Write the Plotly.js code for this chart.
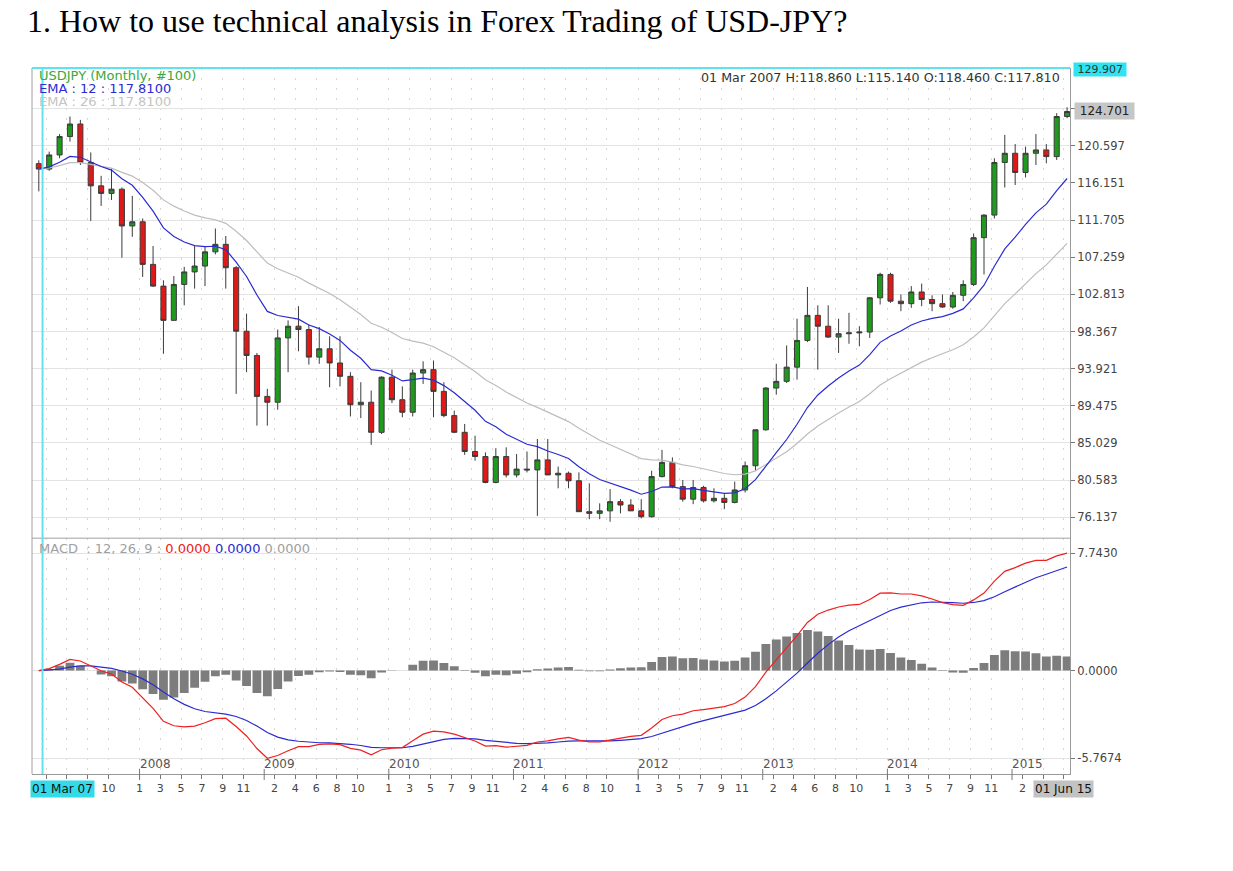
<!DOCTYPE html>
<html>
<head>
<meta charset="utf-8">
<script src="https://cdn.plot.ly/plotly-3.0.1.min.js"></script>
<style>html,body{margin:0;padding:0;background:#fff;}#chart{width:1233px;height:871px;}</style>
</head>
<body>
<div id="chart"></div>
<script>
const months = ["2007-03","2007-04","2007-05","2007-06","2007-07","2007-08","2007-09","2007-10","2007-11","2007-12",
"2008-01","2008-02","2008-03","2008-04","2008-05","2008-06","2008-07","2008-08","2008-09","2008-10","2008-11","2008-12",
"2009-01","2009-02","2009-03","2009-04","2009-05","2009-06","2009-07","2009-08","2009-09","2009-10","2009-11","2009-12",
"2010-01","2010-02","2010-03","2010-04","2010-05","2010-06","2010-07","2010-08","2010-09","2010-10","2010-11","2010-12",
"2011-01","2011-02","2011-03","2011-04","2011-05","2011-06","2011-07","2011-08","2011-09","2011-10","2011-11","2011-12",
"2012-01","2012-02","2012-03","2012-04","2012-05","2012-06","2012-07","2012-08","2012-09","2012-10","2012-11","2012-12",
"2013-01","2013-02","2013-03","2013-04","2013-05","2013-06","2013-07","2013-08","2013-09","2013-10","2013-11","2013-12",
"2014-01","2014-02","2014-03","2014-04","2014-05","2014-06","2014-07","2014-08","2014-09","2014-10","2014-11","2014-12",
"2015-01","2015-02","2015-03","2015-04","2015-05","2015-06"];

const openP = [118.46,117.81,119.5,121.7,123.2,118.6,115.8,114.9,115.4,111.0,
111.5,106.4,103.8,99.7,104.0,105.5,106.2,107.9,108.8,106.0,98.4,95.5,
90.6,89.9,97.6,99.0,98.6,95.3,96.3,94.6,93.0,89.6,89.9,86.3,
92.9,90.2,88.7,93.4,93.8,91.2,88.3,86.3,84.0,83.4,80.3,83.4,
81.2,81.9,81.8,83.0,81.2,81.4,80.5,76.8,76.6,76.9,78.0,77.6,
76.9,76.2,81.0,82.7,79.8,78.3,79.7,78.1,78.4,77.9,79.4,82.3,
86.6,91.6,92.4,94.1,97.3,100.3,99.0,97.7,98.1,98.2,98.3,102.4,
105.2,102.0,101.7,103.1,102.2,101.7,101.3,102.7,104.0,109.6,112.3,118.6,
119.7,117.4,119.7,120.1,119.3,124.1];
const highP = [118.86,119.9,122.0,124.1,123.7,119.8,117.0,117.9,115.6,114.6,
111.9,108.6,104.5,105.0,106.1,108.6,108.6,110.7,109.8,106.2,100.5,95.8,
91.5,98.6,99.7,101.4,99.2,98.9,97.8,97.8,93.5,92.3,91.3,93.0,
93.8,91.8,93.8,94.8,94.9,92.3,88.9,87.3,85.9,83.9,84.4,84.5,
83.7,84.0,85.5,85.5,82.2,81.6,81.5,80.2,77.8,79.5,78.3,78.3,
78.3,81.7,84.2,83.3,80.6,80.6,79.9,79.6,78.9,80.4,82.8,86.6,
91.7,94.5,96.7,99.9,103.7,101.5,101.5,99.9,100.6,99.0,102.5,105.4,
105.4,102.8,103.8,104.1,102.7,102.8,103.1,104.5,110.1,112.4,119.1,121.9,
120.8,120.5,122.0,120.8,124.5,125.2];
const lowP = [115.14,117.6,119.1,121.1,118.3,111.6,113.4,114.1,107.2,109.7,
104.9,103.7,95.7,99.7,101.5,103.5,103.8,107.6,103.5,90.9,93.5,87.1,
87.1,89.0,93.5,96.0,94.4,94.5,91.7,91.8,88.2,88.0,84.8,86.1,
89.8,88.1,88.2,92.1,88.1,88.1,86.2,83.6,82.9,80.2,80.2,80.9,
80.9,81.5,76.3,81.3,79.6,79.6,76.8,75.9,75.9,75.6,76.6,76.9,
76.0,76.1,80.9,79.6,78.0,77.7,77.9,77.9,77.1,77.8,79.1,81.7,
86.5,90.8,92.2,92.6,97.1,93.8,97.6,95.8,96.9,96.6,97.6,101.6,
101.8,100.8,101.2,101.4,100.8,101.2,101.1,102.0,103.8,105.2,111.9,115.6,
115.9,116.8,118.3,118.5,118.9,123.9];
const closeP = [117.81,119.5,121.7,123.2,118.6,115.8,114.9,115.4,111.0,111.5,
106.4,103.8,99.7,104.0,105.5,106.2,107.9,108.8,106.0,98.4,95.5,90.6,
89.9,97.6,99.0,98.6,95.3,96.3,94.6,93.0,89.6,89.9,86.3,92.9,
90.2,88.7,93.4,93.8,91.2,88.3,86.3,84.0,83.4,80.3,83.4,81.2,
81.9,81.8,83.0,81.2,81.4,80.5,76.8,76.6,76.9,78.0,77.6,76.9,
76.2,81.0,82.7,79.8,78.3,79.7,78.1,78.4,77.9,79.4,82.3,86.6,
91.6,92.4,94.1,97.3,100.3,99.0,97.7,98.1,98.2,98.3,102.4,105.2,
102.0,101.7,103.1,102.2,101.7,101.3,102.7,104.0,109.6,112.3,118.6,119.7,
117.4,119.7,120.1,119.3,124.1,124.7];

const ema12 = [117.81,118.07,118.63,119.33,119.22,118.69,118.11,117.69,116.66,115.87,
114.41,112.78,110.77,109.73,109.08,108.64,108.53,108.57,108.17,106.67,
104.95,102.74,100.77,100.28,100.08,99.85,99.15,98.71,98.08,97.30,
96.12,95.16,93.80,93.66,93.13,92.45,92.60,92.78,92.54,91.89,
91.03,89.95,88.94,87.61,86.96,86.07,85.43,84.87,84.58,84.06,
83.65,83.17,82.19,81.33,80.65,80.24,79.83,79.38,78.89,79.21,
79.75,79.76,79.54,79.56,79.34,79.19,78.99,79.05,79.55,80.63,
82.32,83.87,85.44,87.26,89.27,90.77,91.84,92.80,93.63,94.35,
95.59,97.07,97.83,98.43,99.15,99.62,99.94,100.15,100.54,101.07,
102.38,103.91,106.17,108.25,109.66,111.20,112.57,113.61,115.22,116.68];
const ema26 = [117.81,117.94,118.22,118.59,118.59,118.38,118.12,117.92,117.41,116.97,
116.19,115.27,114.12,113.37,112.79,112.30,111.97,111.74,111.31,110.36,
109.26,107.88,106.55,105.88,105.37,104.87,104.16,103.58,102.91,102.18,
101.25,100.41,99.36,98.88,98.24,97.53,97.22,96.97,96.54,95.93,
95.22,94.39,93.58,92.59,91.91,91.12,90.44,89.80,89.29,88.69,
88.15,87.58,86.78,86.03,85.35,84.81,84.27,83.72,83.16,83.00,
82.98,82.74,82.41,82.21,81.91,81.65,81.37,81.22,81.30,81.69,
82.42,83.16,83.97,84.96,86.10,87.06,87.85,88.61,89.32,89.99,
90.91,91.97,92.71,93.38,94.10,94.70,95.22,95.67,96.19,96.77,
97.72,98.80,100.27,101.71,102.87,104.12,105.30,106.34,107.66,108.92];

const macdLine = [0,0.13,0.41,0.74,0.63,0.31,-0.01,-0.23,-0.75,-1.10,
-1.78,-2.49,-3.35,-3.64,-3.71,-3.66,-3.44,-3.17,-3.14,-3.69,
-4.31,-5.14,-5.78,-5.60,-5.29,-5.02,-5.01,-4.87,-4.83,-4.88,
-5.13,-5.25,-5.56,-5.22,-5.11,-5.08,-4.62,-4.19,-4.00,-4.04,
-4.19,-4.44,-4.64,-4.98,-4.95,-5.05,-5.01,-4.93,-4.71,-4.63,
-4.50,-4.41,-4.59,-4.70,-4.70,-4.57,-4.44,-4.34,-4.27,-3.79,
-3.23,-2.98,-2.87,-2.65,-2.57,-2.46,-2.38,-2.17,-1.75,-1.06,
-0.10,0.71,1.47,2.30,3.17,3.71,3.99,4.19,4.31,4.36,
4.68,5.10,5.12,5.05,5.05,4.92,4.72,4.48,4.35,4.30,
4.66,5.11,5.90,6.54,6.79,7.08,7.27,7.27,7.56,7.74];
const signalLine = [0,0.03,0.10,0.23,0.31,0.31,0.25,0.15,-0.03,-0.24,
-0.55,-0.94,-1.42,-1.86,-2.23,-2.52,-2.70,-2.80,-2.87,-3.03,
-3.29,-3.66,-4.08,-4.39,-4.57,-4.66,-4.73,-4.76,-4.77,-4.79,
-4.86,-4.94,-5.06,-5.09,-5.10,-5.09,-5.00,-4.84,-4.67,-4.54,
-4.47,-4.47,-4.50,-4.60,-4.67,-4.74,-4.80,-4.82,-4.80,-4.77,
-4.71,-4.65,-4.64,-4.65,-4.66,-4.64,-4.60,-4.55,-4.49,-4.35,
-4.13,-3.90,-3.69,-3.48,-3.30,-3.13,-2.98,-2.82,-2.61,-2.30,
-1.86,-1.34,-0.78,-0.17,0.50,1.14,1.71,2.21,2.63,2.97,
3.32,3.67,3.96,4.18,4.35,4.47,4.52,4.51,4.48,4.44,
4.49,4.61,4.87,5.20,5.52,5.83,6.12,6.35,6.59,6.83];
const histBars = [0,0.10,0.31,0.51,0.32,0.00,-0.26,-0.38,-0.72,-0.86,
-1.23,-1.55,-1.93,-1.78,-1.48,-1.14,-0.74,-0.37,-0.28,-0.66,
-1.02,-1.48,-1.70,-1.21,-0.72,-0.36,-0.28,-0.11,-0.06,-0.09,
-0.27,-0.31,-0.50,-0.13,-0.01,0.01,0.38,0.65,0.67,0.50,
0.28,0.03,-0.14,-0.38,-0.28,-0.31,-0.21,-0.11,0.09,0.14,
0.21,0.24,0.05,-0.05,-0.04,0.07,0.16,0.21,0.22,0.56,
0.90,0.92,0.82,0.83,0.73,0.67,0.60,0.65,0.86,1.24,
1.76,2.05,2.25,2.47,2.67,2.57,2.28,1.98,1.68,1.39,
1.37,1.43,1.16,0.87,0.70,0.45,0.20,-0.03,-0.13,-0.14,
0.17,0.50,1.03,1.34,1.27,1.25,1.15,0.92,0.97,0.93];

// axis labels ("" where the reference hides the label under a box)
const tickMonths = ["2007-04","2007-06","2007-08","2007-10",
"2008-01","2008-03","2008-05","2008-07","2008-09","2008-11",
"2009-02","2009-04","2009-06","2009-08","2009-10",
"2010-01","2010-03","2010-05","2010-07","2010-09","2010-11",
"2011-02","2011-04","2011-06","2011-08","2011-10",
"2012-01","2012-03","2012-05","2012-07","2012-09","2012-11",
"2013-02","2013-04","2013-06","2013-08","2013-10",
"2014-01","2014-03","2014-05","2014-07","2014-09","2014-11",
"2015-02","2015-04","2015-06"];
const tickText = ["","","","10",
"1","3","5","7","9","11",
"2","4","6","8","10",
"1","3","5","7","9","11",
"2","4","6","8","10",
"1","3","5","7","9","11",
"2","4","6","8","10",
"1","3","5","7","9","11",
"2","",""];
const yearLabels = ["2008","2009","2010","2011","2012","2013","2014","2015"];
const priceTicks = [76.137,80.583,85.029,89.475,93.921,98.367,102.813,107.259,111.705,116.151,120.597,125.043];
const priceTickText = ["76.137","80.583","85.029","89.475","93.921","98.367","102.813","107.259","111.705","116.151","120.597",""];
const macdTicks = [7.743,0,-5.7674];
const macdTickText = ["7.7430","0.0000","-5.7674"];
const lastPrice = 124.701;
const cursorPrice = 129.907;

// positions
const xi = months.map((m,i)=>i);
const idxOf = m => months.indexOf(m);
const TICK_OFF = -0.3;
const tickVals = tickMonths.map(m => idxOf(m) + TICK_OFF);

const PLOT_TOP = 67.5, PLOT_BOT = 774, H = 871;
const PH = PLOT_BOT - PLOT_TOP;
const py = Y => (PLOT_BOT - Y) / PH;   // pixel y -> paper y
const L = 32, R = 1070;
const px = X => (X - L) / (R - L);      // pixel x -> paper x
const split = py(538);

const font = 'DejaVu Sans, Verdana, sans-serif';

const traces = [
  {type:'candlestick', x:xi, open:openP, high:highP, low:lowP, close:closeP,
   xaxis:'x', yaxis:'y', hoverinfo:'skip', whiskerwidth:0,
   increasing:{line:{color:'#3b3b3b', width:1}, fillcolor:'#1f9a1f'},
   decreasing:{line:{color:'#3b3b3b', width:1}, fillcolor:'#e01818'}},
  {type:'scatter', mode:'lines', x:xi, y:ema26, xaxis:'x', yaxis:'y',
   line:{color:'#bdbdbd', width:1.2}, hoverinfo:'skip'},
  {type:'scatter', mode:'lines', x:xi, y:ema12, xaxis:'x', yaxis:'y',
   line:{color:'#2b2bd0', width:1.2}, hoverinfo:'skip'},
  {type:'bar', x:xi, y:histBars, xaxis:'x', yaxis:'y2',
   marker:{color:'#7d7d7d', line:{width:0}}, hoverinfo:'skip'},
  {type:'scatter', mode:'lines', x:xi, y:signalLine, xaxis:'x', yaxis:'y2',
   line:{color:'#2b2bd0', width:1.2}, hoverinfo:'skip'},
  {type:'scatter', mode:'lines', x:xi, y:macdLine, xaxis:'x', yaxis:'y2',
   line:{color:'#ee2020', width:1.2}, hoverinfo:'skip'}
];

const shapes = [
  {type:'line', xref:'paper', yref:'paper', x0:0, x1:0, y0:0, y1:1, line:{color:'#a0a0a0', width:1}},
  {type:'line', xref:'paper', yref:'paper', x0:0, x1:1, y0:split, y1:split, line:{color:'#a0a0a0', width:1}},
  {type:'line', xref:'x', yref:'paper', x0:0.36, x1:0.36, y0:0, y1:1, line:{color:'#5fe3ef', width:2}},
  {type:'line', xref:'paper', yref:'paper', x0:0, x1:1, y0:1, y1:1, line:{color:'#5fe3ef', width:2}}
];
yearLabels.forEach(y => {
  const xv = idxOf(y + "-01") + TICK_OFF;
  shapes.push({type:'line', xref:'x', yref:'paper', x0:xv, x1:xv, y0:py(769), y1:py(780), line:{color:'#777', width:1}});
});

const annotations = [
  {xref:'paper', yref:'paper', x:px(37), y:py(75), xanchor:'left', yanchor:'middle', showarrow:false,
   text:'USDJPY (Monthly, #100)', font:{family:font, size:13, color:'#3aa83a'}},
  {xref:'paper', yref:'paper', x:px(37), y:py(88), xanchor:'left', yanchor:'middle', showarrow:false,
   text:'EMA : 12 : 117.8100', font:{family:font, size:13, color:'#2b2bd0'}},
  {xref:'paper', yref:'paper', x:px(37), y:py(101), xanchor:'left', yanchor:'middle', showarrow:false,
   text:'EMA : 26 : 117.8100', font:{family:font, size:13, color:'#c4c4c4'}},
  {xref:'paper', yref:'paper', x:px(1062), y:py(77), xanchor:'right', yanchor:'middle', showarrow:false,
   text:'01 Mar 2007 H:118.860 L:115.140 O:118.460 C:117.810', font:{family:font, size:12.7, color:'#333'}},
  {xref:'paper', yref:'paper', x:px(37), y:py(548), xanchor:'left', yanchor:'middle', showarrow:false,
   text:'<span style="color:#a0a0a0">MACD  : 12, 26, 9 : </span><span style="color:#ee2020">0.0000</span> <span style="color:#2b2bd0">0.0000</span> <span style="color:#a0a0a0">0.0000</span>',
   font:{family:font, size:13, color:'#a0a0a0'}},
  {xref:'paper', yref:'y', x:1, y:lastPrice, xanchor:'left', yanchor:'middle', xshift:4, showarrow:false,
   text:'&nbsp;124.701&nbsp;', bgcolor:'#c6c6c6', borderpad:1, font:{family:font, size:12, color:'#222'}},
  {xref:'paper', yref:'paper', x:1, y:py(69), xanchor:'left', yanchor:'middle', xshift:3, showarrow:false,
   text:'&nbsp;129.907&nbsp;', bgcolor:'#2fe3f3', borderpad:0, font:{family:font, size:11, color:'#333'}},
  {xref:'paper', yref:'paper', x:px(62), y:py(789), xanchor:'center', yanchor:'middle', showarrow:false,
   text:'01 Mar 07', bgcolor:'#33dbe9', borderpad:1, font:{family:font, size:12, color:'#111'}},
  {xref:'paper', yref:'paper', x:px(1063), y:py(789), xanchor:'center', yanchor:'middle', showarrow:false,
   text:'01 Jun 15', bgcolor:'#c2c2c2', borderpad:1, font:{family:font, size:12, color:'#111'}}
];
yearLabels.forEach(y => {
  annotations.push({xref:'x', yref:'paper', x:idxOf(y + "-01") + TICK_OFF, y:py(764), xanchor:'left', yanchor:'middle',
    xshift:-2, showarrow:false, text:y, font:{family:font, size:12, color:'#555'}});
});

const layout = {
  width:1233, height:871,
  margin:{l:L, r:1233-R, t:PLOT_TOP, b:H-PLOT_BOT, pad:0},
  paper_bgcolor:'#ffffff', plot_bgcolor:'#ffffff',
  showlegend:false, hovermode:false, bargap:0.15, boxgap:0.3,
  title:{text:'1. How to use technical analysis in Forex Trading of USD-JPY?', xref:'container', yref:'container',
    x:27/1233, xanchor:'left', y:1-21/871, yanchor:'middle',
    font:{family:'Liberation Serif, Times New Roman, serif', size:32, color:'#000'}},
  xaxis:{type:'linear', range:[-0.656, 99.28], anchor:'y2', domain:[0,1],
    tickmode:'array', tickvals:tickVals, ticktext:tickText, ticks:'outside', ticklen:4, tickcolor:'#777',
    showline:true, linecolor:'#999', linewidth:1, showgrid:true, gridcolor:'#d6d6d6', griddash:'2px,8px',
    zeroline:false, tickfont:{family:font, size:11, color:'#444'}, rangeslider:{visible:false}, fixedrange:true},
  yaxis:{domain:[split,1], range:[73.63, cursorPrice], side:'right', anchor:'x',
    tickmode:'array', tickvals:priceTicks, ticktext:priceTickText,
    ticks:'outside', ticklen:4, tickcolor:'#777', showline:true, linecolor:'#999', linewidth:1,
    showgrid:true, gridcolor:'#e3e3e3', zeroline:false, tickfont:{family:font, size:11.5, color:'#444'}, fixedrange:true},
  yaxis2:{domain:[0,split], range:[-6.82, 8.73], side:'right', anchor:'x',
    tickmode:'array', tickvals:macdTicks, ticktext:macdTickText,
    ticks:'outside', ticklen:4, tickcolor:'#777', showline:true, linecolor:'#999', linewidth:1,
    showgrid:true, gridcolor:'#e3e3e3', zeroline:false, tickfont:{family:font, size:11.5, color:'#444'}, fixedrange:true},
  shapes:shapes, annotations:annotations
};

Plotly.newPlot('chart', traces, layout, {staticPlot:true, displayModeBar:false});
</script>
</body>
</html>
